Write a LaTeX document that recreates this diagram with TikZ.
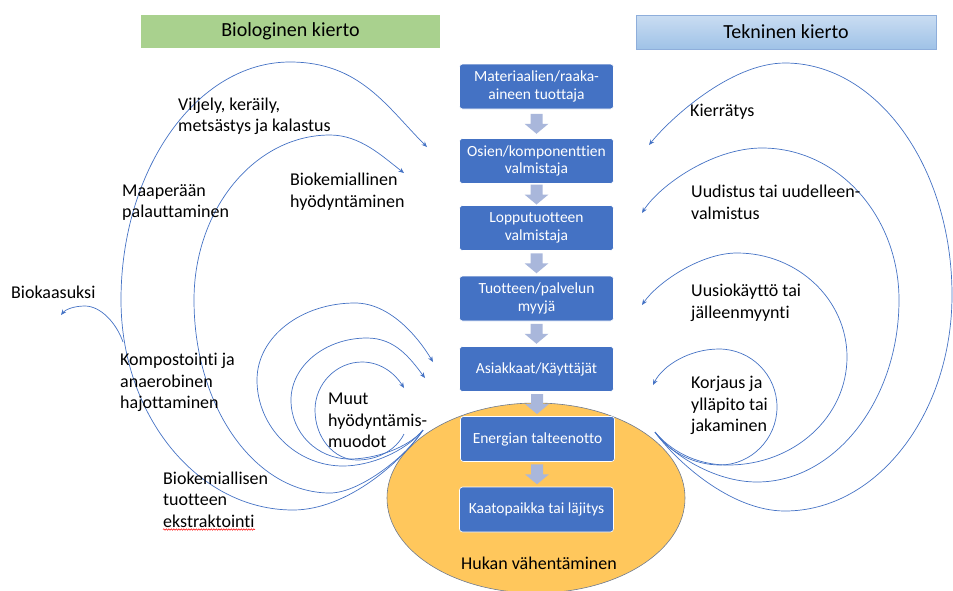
\documentclass[tikz,border=0pt]{standalone}
\usepackage{fontspec}
\setmainfont{Carlito}[Ligatures=CommonOff]
\usetikzlibrary{calc,shapes.geometric,arrows.meta,decorations.pathmorphing}

\definecolor{stageblue}{HTML}{4472C4}
\definecolor{flowgrey}{HTML}{A9B7DB}
\definecolor{biogreen}{HTML}{A9D18E}
\definecolor{techtop}{HTML}{CADDF2}
\definecolor{techbot}{HTML}{9FC2E7}
\definecolor{techedge}{HTML}{8EAEDB}
\definecolor{wastefill}{HTML}{FFC75C}
\definecolor{wasteedge}{HTML}{6F7B8F}

\tikzset{
  stage/.style={rectangle, rounded corners=3pt, fill=stageblue, draw=white,
    line width=0.6pt, text=white, minimum width=154, minimum height=45,
    align=center, inner sep=2pt, font=\fontsize{15.5}{17.5}\selectfont},
  looptext/.style={anchor=west, align=left, inner sep=0pt,
    font=\fontsize{18}{21.5}\selectfont},
  cycleline/.style={draw=stageblue, line width=0.7pt,
    -{Stealth[length=5.5pt,width=4.5pt]}},
  header/.style={minimum width=299, minimum height=33, inner sep=0pt,
    font=\fontsize{20}{24}\selectfont},
}

% block arrow between two consecutive stages
\newcommand\stagearrow[2]{%
  \coordinate (#1-#2) at ($(#1.south)!0.5!(#2.north)$);
  \fill[flowgrey] ($(#1-#2)+(-6,-10)$) -- ($(#1-#2)+(6,-10)$) -- ($(#1-#2)+(6,0)$)
    -- ($(#1-#2)+(12,0)$) -- ($(#1-#2)+(0,10)$) -- ($(#1-#2)+(-12,0)$)
    -- ($(#1-#2)+(-6,0)$) -- cycle;}

\begin{document}
\begin{tikzpicture}[x=1pt,y=-1pt]
\useasboundingbox (0,0) rectangle (953,590);

% headers
\node[header, fill=biogreen] (bio) at (290.5,31.5) {Biologinen kierto};
\node[header, minimum width=300, minimum height=34, top color=techtop,
  bottom color=techbot, draw=techedge, line width=0.6pt] (tech) at (786,32) {Tekninen kierto};

% waste reduction area
\node[ellipse, minimum width=298, minimum height=190, inner sep=0pt,
  fill=wastefill, draw=wasteedge, line width=0.6pt] (hukka) at (536,498) {};
\node[inner sep=0pt, font=\fontsize{18}{21.5}\selectfont] (hukkatxt) at (539,563) {Hukan vähentäminen};

% value chain
\node[stage] (s1) at (536.5,86.5) {Materiaalien/raaka-\\aineen tuottaja};
\node[stage] (s2) at (536.5,161) {Osien/komponenttien\\valmistaja};
\node[stage] (s3) at (536.5,228) {Lopputuotteen\\valmistaja};
\node[stage] (s4) at (536.5,298.5) {Tuotteen/palvelun\\myyjä};
\node[stage] (s5) at (536.5,369) {Asiakkaat/Käyttäjät};
\node[stage] (s6) at (537.5,439) {Energian talteenotto};
\node[stage] (s7) at (536.5,509.5) {Kaatopaikka tai läjitys};

\stagearrow{s1}{s2}
\stagearrow{s2}{s3}
\stagearrow{s3}{s4}
\stagearrow{s4}{s5}
\stagearrow{s5}{s6}
\stagearrow{s6}{s7}

% end points of the loops
\coordinate (bioStart) at (423,430);
\coordinate (bioStartIn) at (404,434);
\coordinate (techStart) at (655,432);
\coordinate (tipViljely) at (427,147);
\coordinate (tipBiokem) at (404,173);
\coordinate (branch) at (123,342);
\coordinate (tipBiokaasu) at (61,315);
\coordinate (tipMuutA) at (433,362);
\coordinate (tipMuutB) at (425,378);
\coordinate (tipMuutC) at (404,388);
\coordinate (tipKierr) at (649,145);
\coordinate (tipUudistus) at (642,213);
\coordinate (tipUusio) at (642,305);
\coordinate (tipKorjaus) at (653,385);

% biological loops
\draw[cycleline] (bioStart) .. controls (403,460) and (348,510) .. (293,510)
  .. controls (198,510) and (121,416) .. (121,300)
  .. controls (121,169) and (197,62) .. (290,62)
  .. controls (360,62) and (387,107) .. (tipViljely);
\draw[cycleline] (bioStart) .. controls (408,455) and (360,493) .. (330,493)
  .. controls (255,493) and (194,407) .. (194,300)
  .. controls (194,209) and (255,135) .. (330,135)
  .. controls (360,135) and (382,156) .. (tipBiokem);
\draw[cycleline] (branch) .. controls (116,322) and (100,306) .. (85,306)
  .. controls (73,306) and (65,310) .. (tipBiokaasu);
\draw[cycleline] (bioStart) .. controls (405,452) and (370,466) .. (343,466)
  .. controls (296,466) and (257,427) .. (257,380)
  .. controls (257,337) and (301,303) .. (355,303)
  .. controls (390,303) and (418,337) .. (tipMuutA);
\draw[cycleline] (bioStart) .. controls (408,448) and (375,459) .. (350,459)
  .. controls (317,459) and (291,433) .. (291,400)
  .. controls (291,366) and (325,338) .. (367,338)
  .. controls (395,338) and (410,358) .. (tipMuutB);
\draw[cycleline] (bioStartIn) .. controls (396,450) and (378,460) .. (357,460)
  .. controls (334,460) and (315,438) .. (315,410)
  .. controls (315,384) and (336,362) .. (362,362)
  .. controls (382,362) and (396,375) .. (tipMuutC);

% technical loops
\draw[cycleline] (techStart) .. controls (675,460) and (730,511) .. (785,511)
  .. controls (877,511) and (952,414) .. (952,295)
  .. controls (952,167) and (877,63) .. (785,63)
  .. controls (730,63) and (669,120) .. (tipKierr);
\draw[cycleline] (techStart) .. controls (672,455) and (715,482) .. (757,482)
  .. controls (835,482) and (899,400) .. (899,300)
  .. controls (899,216) and (838,148) .. (762,148)
  .. controls (712,148) and (659,186) .. (tipUudistus);
\draw[cycleline] (techStart) .. controls (670,450) and (695,465) .. (728,465)
  .. controls (794,465) and (847,417) .. (847,357)
  .. controls (847,300) and (798,253) .. (737,253)
  .. controls (700,253) and (657,283) .. (tipUusio);
\draw[cycleline] (techStart) .. controls (668,452) and (695,465) .. (720,465)
  .. controls (751,465) and (777,439) .. (777,407)
  .. controls (777,375) and (751,349) .. (719,349)
  .. controls (690,349) and (663,365) .. (tipKorjaus);

% loop labels
\node[looptext] (viljely) at (178,116.5) {Viljely, keräily,\\metsästys ja kalastus};
\node[looptext] (maaper) at (122,202.5) {Maaperään\\palauttaminen};
\node[looptext] (biokem) at (290,191.5) {Biokemiallinen\\hyödyntäminen};
\node[looptext] (biokaasu) at (11,292) {Biokaasuksi};
\node[looptext] (kompost) at (120,382.7) {Kompostointi ja\\anaerobinen\\hajottaminen};
\node[looptext] (ekstr) at (163,499.7) {Biokemiallisen\\tuotteen\\ekstraktointi};
\node[looptext] (muut) at (328,420.7) {Muut\\hyödyntämis-\\muodot};
\node[looptext] (kierr) at (690,112) {Kierrätys};
\node[looptext] (uudistus) at (691,202.5) {Uudistus tai uudelleen-\\valmistus};
\node[looptext] (uusio) at (691,303) {Uusiokäyttö tai\\jälleenmyynti};
\node[looptext] (korjaus) at (691,405.7) {Korjaus ja\\ylläpito tai\\jakaminen};

% spell-check mark under the last word
\draw[red, line width=0.5pt, decorate,
  decoration={snake, amplitude=0.7pt, segment length=2.5pt}] (163,529.5) -- (255,529.5);
\end{tikzpicture}
\end{document}
